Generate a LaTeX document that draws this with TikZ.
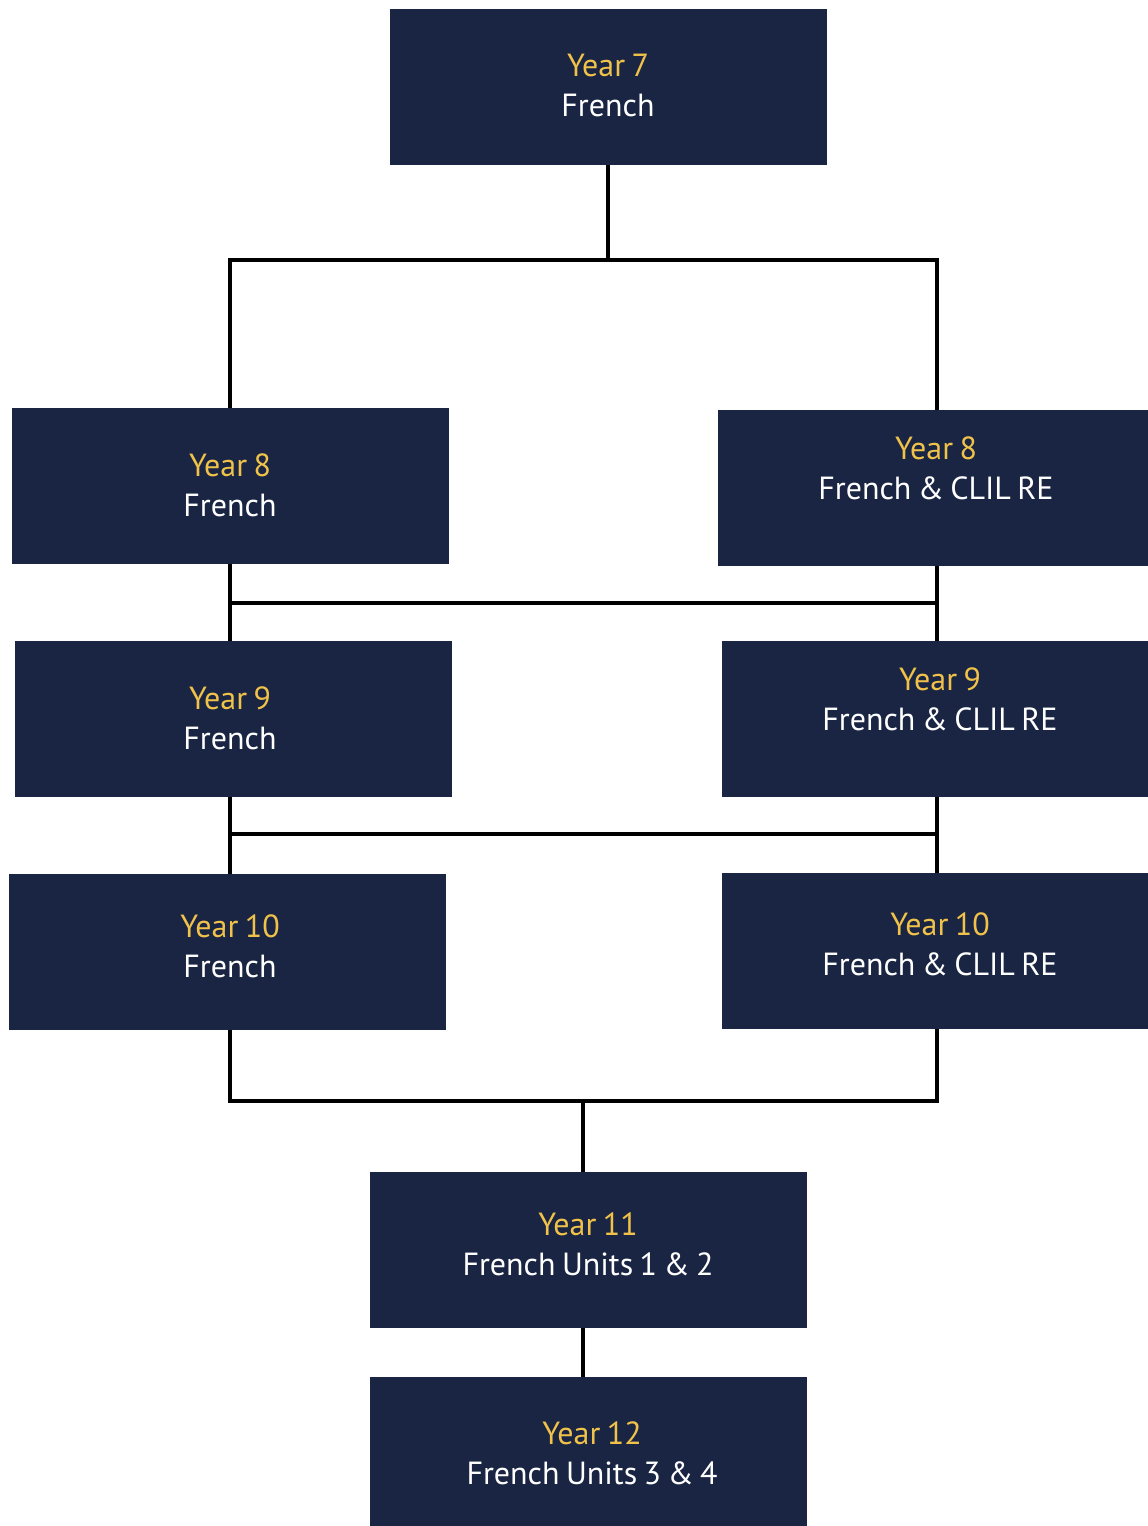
\documentclass[tikz,border=0pt]{standalone}
\usepackage{fontspec}
\setmainfont[WordSpace=0.75]{PT Sans}
\definecolor{navy}{RGB}{25,37,66}
\definecolor{gold}{RGB}{240,194,74}
\tikzset{
  yearbox/.style={fill=navy, inner sep=0pt, minimum width=437pt, minimum height=156pt},
  yeartext/.style={align=center, text=white, inner sep=0pt, font=\fontsize{32}{40}\selectfont},
  link/.style={line width=3.2pt, black}
}
\newcommand{\yeartitle}[2]{\textcolor{gold}{#1}\\#2}

\begin{document}
\begin{tikzpicture}[x=1pt,y=-1pt]
\useasboundingbox (0,0) rectangle (1148,1526);

% boxes
\node[yearbox] (y7) at (608.5,87) {};
\node[yeartext] (y7t) at (608,85) {\yeartitle{Year 7}{French}};

\node[yearbox] (y8l) at (230.5,486) {};
\node[yeartext] (y8lt) at (230,485) {\yeartitle{Year 8}{French}};
\node[yearbox, minimum width=430pt] (y8r) at (933,488) {};
\node[yeartext] (y8rt) at (936,468) {\yeartitle{Year 8}{French \& CLIL RE}};

\node[yearbox] (y9l) at (233.5,719) {};
\node[yeartext] (y9lt) at (230,718) {\yeartitle{Year 9}{French}};
\node[yearbox, minimum width=426pt] (y9r) at (935,719) {};
\node[yeartext] (y9rt) at (940,699) {\yeartitle{Year 9}{French \& CLIL RE}};

\node[yearbox] (y10l) at (227.5,952) {};
\node[yeartext] (y10lt) at (230,946) {\yeartitle{Year 10}{French}};
\node[yearbox, minimum width=426pt] (y10r) at (935,951) {};
\node[yeartext] (y10rt) at (940,944) {\yeartitle{Year 10}{French \& CLIL RE}};

\node[yearbox] (y11) at (588.5,1250) {};
\node[yeartext] (y11t) at (588,1244) {\yeartitle{Year 11}{French Units 1 \& 2}};

\node[yearbox, minimum height=149pt] (y12) at (588.5,1451.5) {};
\node[yeartext] (y12t) at (592,1453) {\yeartitle{Year 12}{French Units 3 \& 4}};

% junctions
\coordinate (split7) at (608,260);
\coordinate (lane8l) at (230,603);
\coordinate (lane8r) at (937,603);
\coordinate (lane9l) at (230,834);
\coordinate (lane9r) at (937,834);
\coordinate (join10) at (583,1101);

% connectors
\draw[link] (y7.south -| split7) -- (split7);
\draw[link] (y8l.north -| lane8l) |- (split7) -| (y8r.north -| lane8r);

\draw[link] (y8l.south -| lane8l) -- (y9l.north -| lane8l);
\draw[link] (y8r.south -| lane8r) -- (y9r.north -| lane8r);
\draw[link] (lane8l) -- (lane8r);

\draw[link] (y9l.south -| lane9l) -- (y10l.north -| lane9l);
\draw[link] (y9r.south -| lane9r) -- (y10r.north -| lane9r);
\draw[link] (lane9l) -- (lane9r);

\draw[link] (y10l.south -| lane9l) |- (join10) -| (y10r.south -| lane9r);
\draw[link] (join10) -- (y11.north -| join10);
\draw[link] (y11.south -| join10) -- (y12.north -| join10);
\end{tikzpicture}
\end{document}
